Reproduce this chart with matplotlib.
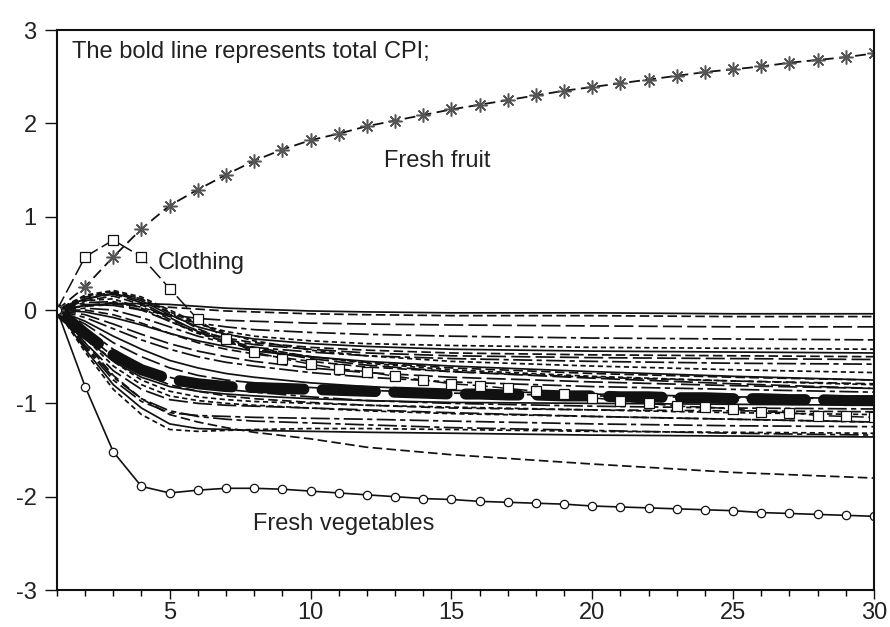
import matplotlib
matplotlib.use("Agg")
import matplotlib.pyplot as plt
from matplotlib.ticker import MultipleLocator

plt.rcParams['font.family'] = ['Liberation Sans', 'DejaVu Sans']

periods = list(range(1, 31))

fresh_fruit = [0.00, 0.25, 0.57, 0.87, 1.12, 1.29, 1.45, 1.60, 1.72, 1.82,
               1.89, 1.97, 2.03, 2.09, 2.15, 2.20, 2.25, 2.30, 2.35, 2.39,
               2.43, 2.47, 2.51, 2.55, 2.58, 2.61, 2.65, 2.68, 2.71, 2.75]
clothing = [0.00, 0.57, 0.75, 0.57, 0.23, -0.10, -0.31, -0.45, -0.52, -0.58,
            -0.63, -0.66, -0.71, -0.75, -0.79, -0.81, -0.84, -0.87, -0.90, -0.94,
            -0.97, -1.00, -1.03, -1.04, -1.06, -1.09, -1.10, -1.13, -1.14, -1.15]
fresh_veg = [0.00, -0.82, -1.52, -1.89, -1.96, -1.93, -1.91, -1.91, -1.92, -1.94,
             -1.96, -1.98, -2.00, -2.02, -2.03, -2.05, -2.06, -2.07, -2.08, -2.10,
             -2.11, -2.12, -2.13, -2.14, -2.15, -2.17, -2.18, -2.19, -2.20, -2.21]
total_cpi = [0.00, -0.25, -0.48, -0.64, -0.74, -0.79, -0.82, -0.83, -0.84, -0.85,
             -0.86, -0.87, -0.88, -0.89, -0.90, -0.90, -0.91, -0.91, -0.92, -0.92,
             -0.93, -0.93, -0.94, -0.94, -0.95, -0.95, -0.96, -0.96, -0.97, -0.97]

# other CPI components, read at these periods
comp_x = [1, 2, 3, 4, 5, 6, 7, 8, 10, 12, 15, 20, 25, 30]
components = [
    [0, 0.05, 0.07, 0.07, 0.06, 0.04, 0.02, 0.01, -0.01, -0.02, -0.03, -0.03, -0.04, -0.04],
    [0, 0.04, 0.06, 0.05, 0.03, 0.01, -0.01, -0.02, -0.04, -0.05, -0.06, -0.06, -0.07, -0.07],
    [0, 0.06, 0.05, 0.00, -0.05, -0.09, -0.11, -0.12, -0.14, -0.15, -0.16, -0.17, -0.18, -0.18],
    [0, 0.08, 0.09, 0.03, -0.07, -0.14, -0.18, -0.21, -0.24, -0.26, -0.28, -0.30, -0.31, -0.32],
    [0, 0.15, 0.20, 0.12, -0.02, -0.15, -0.23, -0.28, -0.33, -0.36, -0.38, -0.40, -0.41, -0.42],
    [0, 0.12, 0.18, 0.10, -0.05, -0.18, -0.26, -0.31, -0.36, -0.39, -0.42, -0.44, -0.45, -0.46],
    [0, 0.10, 0.15, 0.06, -0.10, -0.22, -0.30, -0.35, -0.40, -0.43, -0.46, -0.48, -0.49, -0.50],
    [0, 0.05, 0.08, 0.00, -0.12, -0.24, -0.32, -0.37, -0.42, -0.46, -0.49, -0.51, -0.52, -0.53],
    [0, 0.02, 0.00, -0.08, -0.18, -0.28, -0.35, -0.40, -0.45, -0.49, -0.52, -0.55, -0.57, -0.58],
    [0, 0.16, 0.21, 0.14, 0.00, -0.14, -0.25, -0.33, -0.43, -0.49, -0.55, -0.60, -0.64, -0.67],
    [0, -0.02, -0.08, -0.16, -0.25, -0.33, -0.39, -0.44, -0.50, -0.55, -0.60, -0.66, -0.71, -0.75],
    [0, 0.00, -0.05, -0.14, -0.25, -0.35, -0.42, -0.47, -0.55, -0.61, -0.66, -0.72, -0.76, -0.79],
    [0, -0.05, -0.15, -0.26, -0.36, -0.44, -0.50, -0.55, -0.62, -0.67, -0.72, -0.77, -0.81, -0.84],
    [0, -0.08, -0.20, -0.32, -0.42, -0.50, -0.56, -0.60, -0.67, -0.72, -0.77, -0.82, -0.85, -0.88],
    [0, 0.10, 0.12, 0.02, -0.12, -0.25, -0.34, -0.41, -0.50, -0.57, -0.64, -0.71, -0.76, -0.80],
    [0, -0.30, -0.55, -0.72, -0.82, -0.87, -0.90, -0.92, -0.95, -0.97, -0.99, -1.00, -1.01, -1.02],
    [0, -0.25, -0.50, -0.68, -0.80, -0.87, -0.92, -0.95, -0.99, -1.02, -1.05, -1.07, -1.08, -1.09],
    [0, -0.35, -0.65, -0.85, -0.96, -1.00, -1.02, -1.03, -1.05, -1.07, -1.10, -1.14, -1.17, -1.20],
    [0, -0.40, -0.75, -0.98, -1.10, -1.13, -1.14, -1.15, -1.16, -1.17, -1.19, -1.22, -1.24, -1.25],
    [0, -0.45, -0.85, -1.12, -1.28, -1.30, -1.29, -1.28, -1.27, -1.27, -1.28, -1.30, -1.31, -1.32],
    [0, -0.42, -0.80, -1.05, -1.22, -1.27, -1.28, -1.29, -1.30, -1.31, -1.32, -1.34, -1.35, -1.36],
    [0, -0.35, -0.70, -0.95, -1.12, -1.20, -1.26, -1.31, -1.38, -1.47, -1.55, -1.65, -1.74, -1.80],
    [0, -0.15, -0.35, -0.50, -0.62, -0.70, -0.75, -0.78, -0.83, -0.86, -0.89, -0.92, -0.94, -0.95],
    [0, -0.20, -0.42, -0.60, -0.72, -0.80, -0.85, -0.88, -0.93, -0.97, -1.00, -1.03, -1.05, -1.06],
    [0, -0.30, -0.60, -0.80, -0.92, -0.97, -1.00, -1.02, -1.05, -1.08, -1.11, -1.14, -1.17, -1.20],
    [0, -0.12, -0.28, -0.42, -0.54, -0.62, -0.68, -0.72, -0.78, -0.82, -0.86, -0.90, -0.93, -0.95],
    [0, 0.14, 0.19, 0.12, -0.03, -0.20, -0.32, -0.40, -0.50, -0.56, -0.62, -0.68, -0.72, -0.75],
    [0, 0.12, 0.17, 0.08, -0.08, -0.23, -0.34, -0.42, -0.52, -0.59, -0.66, -0.73, -0.79, -0.84],
    [0, -0.38, -0.72, -0.95, -1.08, -1.14, -1.17, -1.19, -1.21, -1.23, -1.26, -1.29, -1.32, -1.34],
    [0, -0.28, -0.55, -0.75, -0.87, -0.93, -0.96, -0.98, -1.00, -1.02, -1.04, -1.07, -1.10, -1.12],
]

dash_styles = ['-', (0, (5.5, 2.5)), (0, (11, 3)), (0, (11, 2.5, 3, 2.5)), (0, (3, 2))]

fig = plt.figure(figsize=(8.9, 6.27), dpi=100)
ax = fig.add_axes([0.064, 0.059, 0.918, 0.893])

for i, vals in enumerate(components):
    ax.plot(comp_x, vals, color='#111111', lw=1.25,
            linestyle=dash_styles[i % len(dash_styles)])

ax.plot(periods, total_cpi, color='#111111', lw=8, dashes=(4.8, 1.65),
        dash_capstyle='round', solid_capstyle='round')

ax.plot(periods, clothing, color='#111111', lw=1.1, linestyle=(0, (10, 3)),
        marker='s', markersize=7, markerfacecolor='white',
        markeredgecolor='#111111', markeredgewidth=0.9)
ax.plot(periods, fresh_fruit, color='#111111', lw=1.3, linestyle=(0, (6, 3)),
        marker=(8, 2, 0), markersize=10, markerfacecolor='#555555',
        markeredgecolor='#555555', markeredgewidth=1.1)
ax.plot(periods, fresh_veg, color='#111111', lw=1.2, linestyle='-',
        marker='o', markersize=6, markerfacecolor='white',
        markeredgecolor='#111111', markeredgewidth=0.9)

txt = dict(fontsize=17, color='#222222')
ax.text(1.53, 2.77, 'The bold line represents total CPI;', va='center', **txt)
ax.text(12.6, 1.6, 'Fresh fruit', va='center', **txt)
ax.text(4.59, 0.5, 'Clothing', va='center', **txt)
ax.text(7.95, -2.29, 'Fresh vegetables', va='center', **txt)

ax.set_xlim(1, 30)
ax.set_ylim(-3, 3)
ax.set_xticks([5, 10, 15, 20, 25, 30])
ax.xaxis.set_minor_locator(MultipleLocator(1))
ax.set_yticks([-3, -2, -1, 0, 1, 2, 3])
ax.set_yticklabels(['-3', '-2', '-1', '0', '1', '2', '3'])
ax.tick_params(axis='both', which='major', direction='out', labelsize=17,
               colors='#111111', labelcolor='#222222', width=1.0)
ax.tick_params(axis='y', length=8.6, pad=6)
ax.tick_params(axis='x', which='major', length=6.5, pad=2)
ax.tick_params(axis='x', which='minor', length=4.3, width=1.0)
for s in ax.spines.values():
    s.set_linewidth(1.5)
    s.set_color('#111111')

plt.savefig('out.png', dpi=100)
